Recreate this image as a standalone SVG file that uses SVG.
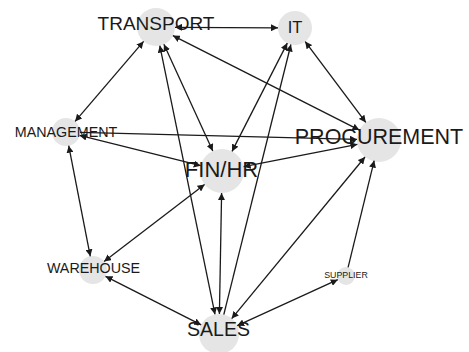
<svg xmlns="http://www.w3.org/2000/svg" width="469" height="352" viewBox="0 0 469 352">
<style>
.node circle{fill:#e5e5e5;stroke:none}
.node text{font-family:"Liberation Sans",Arial,sans-serif;fill:#1a1a1a;text-anchor:middle}
.edge{stroke:#1a1a1a;stroke-width:1.3;fill:none}
.bi{marker-start:url(#a);marker-end:url(#a)}
.uni{marker-end:url(#a)}
</style>
<defs>
<marker id="a" viewBox="0 0 10 10" refX="10" refY="5" markerWidth="7" markerHeight="7" markerUnits="userSpaceOnUse" orient="auto-start-reverse">
<path d="M0,0 L10,5 L0,10 z" fill="#1a1a1a"/>
</marker>
</defs>
<rect width="469" height="352" fill="#fff"/>
<g id="nodes-bg">
<g id="n-transport-c" class="node"><circle cx="156" cy="27" r="19"/></g>
<g id="n-it-c" class="node"><circle cx="295" cy="28" r="17"/></g>
<g id="n-procurement-c" class="node"><circle cx="379" cy="140" r="22"/></g>
<g id="n-management-c" class="node"><circle cx="66" cy="132" r="14"/></g>
<g id="n-finhr-c" class="node"><circle cx="222" cy="171" r="22"/></g>
<g id="n-warehouse-c" class="node"><circle cx="93" cy="270" r="14"/></g>
<g id="n-supplier-c" class="node"><circle cx="346" cy="276" r="9"/></g>
<g id="n-sales-c" class="node"><circle cx="219" cy="334" r="20"/></g>
</g>
<g id="connectors">
<line class="edge bi" x1="175" y1="27.3" x2="278" y2="27.8"/>
<line class="edge bi" x1="143.6" y1="41.4" x2="75.1" y2="121.4"/>
<line class="edge bi" x1="172.9" y1="35.6" x2="359.4" y2="130.1"/>
<line class="edge bi" x1="163.9" y1="44.3" x2="212.8" y2="151"/>
<line class="edge bi" x1="159.8" y1="45.6" x2="215" y2="314.4"/>
<line class="edge bi" x1="305.2" y1="41.6" x2="365.8" y2="122.4"/>
<line class="edge bi" x1="287.3" y1="43.1" x2="232" y2="151.4"/>
<line class="edge uni" x1="223.8" y1="314.6" x2="290.9" y2="44.5"/>
<line class="edge bi" x1="79.6" y1="135.4" x2="200.7" y2="165.7"/>
<line class="edge uni" x1="80" y1="132.4" x2="357" y2="139.4"/>
<line class="edge bi" x1="243.6" y1="166.7" x2="357.4" y2="144.3"/>
<line class="edge bi" x1="68.7" y1="145.7" x2="90.3" y2="256.3"/>
<line class="edge bi" x1="104.1" y1="261.5" x2="204.6" y2="184.4"/>
<line class="edge bi" x1="105.5" y1="276.3" x2="201.2" y2="324.9"/>
<line class="edge bi" x1="221.6" y1="193" x2="219.4" y2="314"/>
<line class="edge bi" x1="231.7" y1="318.6" x2="365" y2="157"/>
<line class="edge bi" x1="237.2" y1="325.7" x2="337.8" y2="279.7"/>
<line class="edge uni" x1="348.1" y1="267.3" x2="374.2" y2="160.6"/>
</g>
<g id="n-transport" class="node"><text x="156" y="30" font-size="19">TRANSPORT</text></g>
<g id="n-it" class="node"><text x="295" y="33" font-size="16.5">IT</text></g>
<g id="n-procurement" class="node"><text x="379" y="144" font-size="21.5">PROCUREMENT</text></g>
<g id="n-management" class="node"><text x="66" y="137" font-size="14.3">MANAGEMENT</text></g>
<g id="n-finhr" class="node"><text x="221.5" y="177" font-size="22">FIN/HR</text></g>
<g id="n-warehouse" class="node"><text x="93.5" y="273" font-size="14.3">WAREHOUSE</text></g>
<g id="n-supplier" class="node"><text x="346" y="278" font-size="8.8">SUPPLIER</text></g>
<g id="n-sales" class="node"><text x="218.5" y="336" font-size="19.5">SALES</text></g>
</svg>
